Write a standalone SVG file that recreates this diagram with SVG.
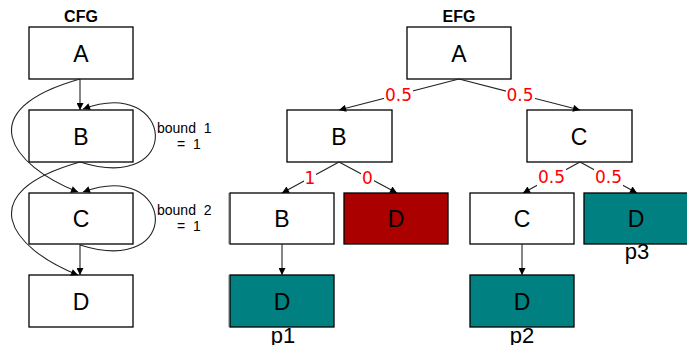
<svg xmlns="http://www.w3.org/2000/svg" width="687" height="345" viewBox="0 0 687 345">
<style>
.box{stroke:#000;stroke-width:1.3;fill:#fff}
.red{fill:#aa0000}
.teal{fill:#008080}
.lbl{font-family:"Liberation Sans",Arial,sans-serif;font-size:23px;text-anchor:middle;fill:#000}
.title{font-family:"Liberation Sans",Arial,sans-serif;font-size:16px;font-weight:bold;text-anchor:middle;fill:#000}
.bnd{font-family:"Liberation Sans",Arial,sans-serif;font-size:14px;fill:#000;white-space:pre}
.pl{font-family:"Liberation Sans",Arial,sans-serif;font-size:22px;text-anchor:middle;fill:#000}
.el{font-family:"DejaVu Sans",Verdana,sans-serif;font-size:17px;text-anchor:middle;fill:#ff0000}
.edge{stroke:#222;stroke-width:1.1;fill:none;marker-end:url(#ah)}
.art{stroke:#bbb;stroke-width:1}
</style>
<defs>
<marker id="ah" viewBox="0 0 10 10" refX="10" refY="5" markerWidth="9" markerHeight="7" markerUnits="userSpaceOnUse" orient="auto">
<path d="M0,0 L10,5 L0,10 z" fill="#000"/>
</marker>
</defs>
<rect width="687" height="345" fill="#fff"/>
<text class="title" x="81" y="22">CFG</text>
<text class="title" x="459" y="22">EFG</text>
<g id="cfg-A"><rect class="box" x="29" y="27" width="104" height="52"/><text class="lbl" x="81" y="62">A</text></g>
<g id="cfg-B"><rect class="box" x="29" y="110" width="104" height="52"/><text class="lbl" x="81" y="145">B</text></g>
<g id="cfg-C"><rect class="box" x="29" y="193" width="104" height="51"/><text class="lbl" x="81" y="227">C</text></g>
<g id="cfg-D"><rect class="box" x="29" y="275" width="104" height="52"/><text class="lbl" x="81" y="310">D</text></g>
<g id="bounds">
<text class="bnd" x="157" y="133" xml:space="preserve">bound  1</text>
<text class="bnd" x="177" y="149" xml:space="preserve">=  1</text>
<text class="bnd" x="157" y="215" xml:space="preserve">bound  2</text>
<text class="bnd" x="177" y="231" xml:space="preserve">=  1</text>
</g>
<g id="efg-A"><rect class="box" x="407" y="27" width="104" height="52"/><text class="lbl" x="459" y="62">A</text></g>
<g id="efg-B"><rect class="box" x="287" y="110" width="105" height="52"/><text class="lbl" x="339" y="145">B</text></g>
<g id="efg-C"><rect class="box" x="527" y="110" width="105" height="52"/><text class="lbl" x="579" y="145">C</text></g>
<g id="efg-B2"><rect class="box" x="230" y="193" width="104" height="51"/><text class="lbl" x="282" y="227">B</text></g>
<g id="efg-D-red"><rect class="box red" x="344" y="193" width="104" height="51"/><text class="lbl" x="396" y="227">D</text></g>
<g id="efg-C2"><rect class="box" x="470" y="193" width="104" height="51"/><text class="lbl" x="522" y="227">C</text></g>
<g id="efg-D-p3"><rect class="box teal" x="584" y="193" width="104" height="51"/><text class="lbl" x="636" y="227">D</text><text class="pl" x="637" y="259">p3</text></g>
<g id="efg-D-p1"><rect class="box teal" x="230" y="275" width="104" height="52"/><text class="lbl" x="282" y="310">D</text><text class="pl" x="283" y="343">p1</text></g>
<g id="efg-D-p2"><rect class="box teal" x="470" y="275" width="104" height="52"/><text class="lbl" x="522" y="310">D</text><text class="pl" x="522" y="343">p2</text></g>
<g id="connectors">
<path class="edge" d="M80,79 L80,110"/>
<path class="edge" d="M80,244 L80,275"/>
<path class="edge" d="M80,79 C-30,110 10,165 78,192"/>
<path class="edge" d="M80,162 C185,195 175,75 83,109"/>
<path class="edge" d="M80,162 C-30,193 10,248 78,275"/>
<path class="edge" d="M80,245 C185,278 175,158 83,192"/>
<path class="edge" d="M459,79 L339,110"/>
<path class="edge" d="M459,79 L580,110"/>
<path class="edge" d="M339,162 L282,193"/>
<path class="edge" d="M339,162 L397,193"/>
<path class="edge" d="M580,162 L523,193"/>
<path class="edge" d="M580,162 L637,193"/>
<path class="edge" d="M282,244 L282,275"/>
<path class="edge" d="M522,244 L522,275"/>
<rect x="384" y="86" width="29" height="18" fill="#fff"/><text class="el" x="398.5" y="101">0.5</text>
<rect x="506" y="86" width="29" height="18" fill="#fff"/><text class="el" x="520" y="101">0.5</text>
<rect x="304" y="169" width="12" height="18" fill="#fff"/><text class="el" x="310" y="184">1</text>
<rect x="361" y="169" width="13" height="18" fill="#fff"/><text class="el" x="367.5" y="184">0</text>
<rect x="537" y="168" width="29" height="18" fill="#fff"/><text class="el" x="551.5" y="183">0.5</text>
<rect x="594" y="168" width="29" height="18" fill="#fff"/><text class="el" x="608.5" y="183">0.5</text>
</g>
<line class="art" x1="228.5" y1="193" x2="228.5" y2="244"/>
<line class="art" x1="228.5" y1="275" x2="228.5" y2="327"/>
</svg>
